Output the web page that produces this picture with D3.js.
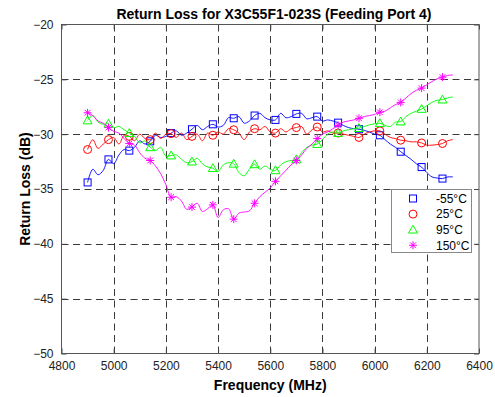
<!DOCTYPE html>
<html>
<head>
<meta charset="utf-8">
<script src="https://cdn.jsdelivr.net/npm/d3@7"></script>
<style>
  html, body { margin: 0; padding: 0; background: #fff; }
  text { font-family: "Liberation Sans", Arial, sans-serif; }
</style>
</head>
<body>
<script>
// Measured return loss (dB), sampled every 20 MHz from 4900 to 6300 MHz
const freqStart = 4900, freqStep = 20;
const seriesNames = ["-55°C", "25°C", "95°C", "150°C"];
const seriesColors = ["#0000ff", "#ff0000", "#00ff00", "#ff00ff"];
const seriesMarkers = ["square", "circle", "triangle", "star"];

const rlMinus55 = [
  -34.4, -33.2, -33.7, -33.3, -32.3,
  -32.7, -31.9, -31.4, -31.5, -31.2,
  -30.6, -30.9, -30.65, -30.1, -30.3,
  -30.2, -29.9, -29.7, -30.1, -29.9,
  -29.55, -29.2, -29.6, -29.3, -29.1,
  -29.35, -29.2, -28.5, -28.55, -28.4,
  -29.0, -28.8, -28.3, -28.1, -28.5,
  -28.7, -28.7, -28.1, -28.5, -28.4,
  -28.15, -28.1, -28.6, -28.5, -28.4,
  -28.8, -28.7, -28.8, -28.95, -29.2,
  -29.4, -29.5, -29.55, -29.65, -29.8,
  -30.0, -30.1, -30.5, -30.9, -31.2,
  -31.6, -31.95, -32.3, -32.7, -33.0,
  -33.5, -33.9, -34.0, -34.05, -33.9,
  -33.9
];
const rl25 = [
  -31.4, -30.5, -31.3, -30.9, -30.5,
  -30.3, -30.9, -30.1, -30.2, -30.6,
  -30.0, -30.4, -30.5, -29.9, -30.4,
  -30.0, -29.95, -30.3, -29.9, -30.5,
  -30.2, -30.0, -30.6, -29.9, -30.1,
  -29.8, -30.0, -29.5, -29.6, -29.9,
  -30.5, -29.8, -29.5, -29.6, -29.3,
  -29.8, -29.9, -29.5, -29.8, -29.5,
  -29.4, -29.3, -30.0, -29.6, -29.35,
  -29.8, -29.7, -29.9, -29.9, -30.0,
  -30.1, -30.2, -30.3, -30.0, -29.8,
  -29.7, -29.7, -30.0, -30.3, -30.4,
  -30.55, -30.6, -30.7, -30.7, -30.8,
  -31.0, -31.0, -30.95, -30.85, -30.6,
  -30.5
];
const rl95 = [
  -28.75, -28.3, -28.9, -29.1, -29.05,
  -29.4, -29.3, -29.6, -29.9, -30.2,
  -30.8, -30.6, -31.2, -31.5, -31.2,
  -32.0, -31.95, -31.9, -32.3, -32.6,
  -32.5, -32.2, -32.7, -33.0, -33.1,
  -33.4, -32.8, -32.6, -32.7, -33.5,
  -33.8, -33.2, -32.75, -33.2, -32.9,
  -33.2, -33.3, -32.8, -32.5, -32.4,
  -32.3, -31.7, -31.2, -31.0, -30.9,
  -30.5, -30.0, -29.8, -29.9, -29.7,
  -29.6, -29.5, -29.45, -29.3, -29.15,
  -29.05, -29.0, -29.2, -29.3, -28.9,
  -28.85, -28.4, -28.1, -27.9, -27.7,
  -27.4, -27.1, -26.9, -26.85, -26.7,
  -26.6
];
const rl150 = [
  -28.05, -28.3, -28.8, -29.0, -29.4,
  -29.75, -29.9, -30.4, -30.85, -31.0,
  -31.7, -32.2, -32.4, -32.9, -33.6,
  -34.6, -35.75, -35.7, -36.1, -36.85,
  -36.65, -36.3, -37.05, -36.8, -36.45,
  -37.6, -36.9, -36.8, -37.75, -37.2,
  -37.1, -37.0, -36.3, -35.7, -35.3,
  -34.9, -34.3, -33.8, -33.3, -32.8,
  -32.4, -31.9, -31.3, -30.9, -30.4,
  -30.0, -29.8, -29.5, -29.2, -28.9,
  -28.8, -28.7, -28.55, -28.4, -28.3,
  -28.2, -28.0, -27.9, -27.6, -27.3,
  -27.1, -26.7, -26.3, -26.0, -25.8,
  -25.5, -25.2, -24.95, -24.8, -24.65,
  -24.6
];
const seriesValues = [rlMinus55, rl25, rl95, rl150];

const xTicks = [4800, 5000, 5200, 5400, 5600, 5800, 6000, 6200, 6400];
const yTicks = [-50, -45, -40, -35, -30, -25, -20];
const markerEvery = 4; // a marker on every 80 MHz sample

const W = 495, H = 397;
const m = { left: 61.5, right: 479, top: 24.5, bottom: 353.5 };

const svg = d3.select("body").append("svg")
  .attr("width", W).attr("height", H);

svg.append("rect").attr("width", W).attr("height", H).attr("fill", "#fff");

const x = d3.scaleLinear().domain([4800, 6400]).range([m.left, m.right]);
const y = d3.scaleLinear().domain([-50, -20]).range([m.bottom, m.top]);

// dashed grid
const grid = svg.append("g")
  .attr("stroke", "#3a3a3a").attr("stroke-width", 1)
  .attr("stroke-dasharray", "7,4.5").attr("fill", "none");
xTicks.slice(1, -1).forEach(t => {
  grid.append("line")
    .attr("x1", Math.round(x(t)) + 0.5).attr("x2", Math.round(x(t)) + 0.5)
    .attr("y1", m.top).attr("y2", m.bottom);
});
yTicks.slice(1, -1).forEach(t => {
  grid.append("line")
    .attr("y1", Math.round(y(t)) + 0.5).attr("y2", Math.round(y(t)) + 0.5)
    .attr("x1", m.left).attr("x2", m.right);
});

// axes with inward ticks
const styleAxis = (g, labels) => {
  g.select(".domain").remove();
  g.selectAll(".tick line").attr("stroke", "#444");
  g.selectAll(".tick text")
    .attr("fill", "#222")
    .style("font-size", "12px")
    .style("font-family", "'Liberation Sans', Arial, sans-serif");
  if (!labels) g.selectAll(".tick text").remove();
};
svg.append("g").attr("transform", `translate(0,${m.bottom})`)
  .call(d3.axisBottom(x).tickValues(xTicks).tickSize(-5).tickPadding(8).tickFormat(d3.format("d")))
  .call(g => styleAxis(g, true));
svg.append("g").attr("transform", `translate(0,${m.top})`)
  .call(d3.axisTop(x).tickValues(xTicks).tickSize(-5))
  .call(g => styleAxis(g, false));
svg.append("g").attr("transform", `translate(${m.left},0)`)
  .call(d3.axisLeft(y).tickValues(yTicks).tickSize(-5).tickPadding(8).tickFormat(d3.format("d")))
  .call(g => styleAxis(g, true));
svg.append("g").attr("transform", `translate(${m.right},0)`)
  .call(d3.axisRight(y).tickValues(yTicks).tickSize(-5))
  .call(g => styleAxis(g, false));

// axes box
svg.append("rect")
  .attr("x", m.left).attr("y", m.top)
  .attr("width", m.right - m.left).attr("height", m.bottom - m.top)
  .attr("fill", "none").attr("stroke", "#555").attr("stroke-width", 1);

// marker drawing
function drawMarker(g, type, cx, cy, color) {
  if (type === "square") {
    g.append("rect").attr("x", cx - 3.5).attr("y", cy - 3.5)
      .attr("width", 7).attr("height", 7)
      .attr("fill", "none").attr("stroke", color).attr("stroke-width", 1);
  } else if (type === "circle") {
    g.append("circle").attr("cx", cx).attr("cy", cy).attr("r", 4)
      .attr("fill", "none").attr("stroke", color).attr("stroke-width", 1);
  } else if (type === "triangle") {
    const s = 4.5;
    g.append("path")
      .attr("d", `M${cx},${cy - s}L${cx + s},${cy + s * 0.75}L${cx - s},${cy + s * 0.75}Z`)
      .attr("fill", "none").attr("stroke", color).attr("stroke-width", 1);
  } else {
    const r = 4, d = r * 0.72;
    g.append("path")
      .attr("d", `M${cx - r},${cy}H${cx + r}M${cx},${cy - r}V${cy + r}` +
                 `M${cx - d},${cy - d}L${cx + d},${cy + d}M${cx - d},${cy + d}L${cx + d},${cy - d}`)
      .attr("fill", "none").attr("stroke", color).attr("stroke-width", 1);
  }
}

const line = d3.line()
  .x(d => x(d[0])).y(d => y(d[1]))
  .curve(d3.curveCatmullRom.alpha(0.5));

seriesValues.forEach((vals, si) => {
  const pts = vals.map((v, i) => [freqStart + i * freqStep, v]);
  const g = svg.append("g");
  g.append("path").datum(pts)
    .attr("d", line).attr("fill", "none")
    .attr("stroke", seriesColors[si]).attr("stroke-width", 0.9);
  pts.filter((p, i) => i % markerEvery === 0 && i < pts.length - 1)
    .forEach(p => drawMarker(g, seriesMarkers[si], x(p[0]), y(p[1]), seriesColors[si]));
});

// title and axis labels
svg.append("text").attr("x", 274).attr("y", 19)
  .attr("text-anchor", "middle").attr("font-weight", "bold")
  .style("font-size", "14px").attr("fill", "#000")
  .text("Return Loss for X3C55F1-023S (Feeding Port 4)");
svg.append("text").attr("x", (m.left + m.right) / 2).attr("y", 390)
  .attr("text-anchor", "middle").attr("font-weight", "bold")
  .style("font-size", "14px").attr("fill", "#000")
  .text("Frequency (MHz)");
svg.append("text")
  .attr("transform", `translate(30,${(m.top + m.bottom) / 2}) rotate(-90)`)
  .attr("text-anchor", "middle").attr("font-weight", "bold")
  .style("font-size", "14px").attr("fill", "#000")
  .text("Return Loss (dB)");

// legend
const lg = svg.append("g");
lg.append("rect").attr("x", 391.5).attr("y", 189.5)
  .attr("width", 80).attr("height", 63)
  .attr("fill", "#fff").attr("stroke", "#888").attr("stroke-width", 1);
seriesNames.forEach((name, i) => {
  const cy = 198.5 + i * 15.6;
  drawMarker(lg, seriesMarkers[i], 413, cy, seriesColors[i]);
  lg.append("text").attr("x", 436).attr("y", cy + 4.2)
    .style("font-size", "12px").attr("fill", "#000").text(name);
});
</script>
</body>
</html>
